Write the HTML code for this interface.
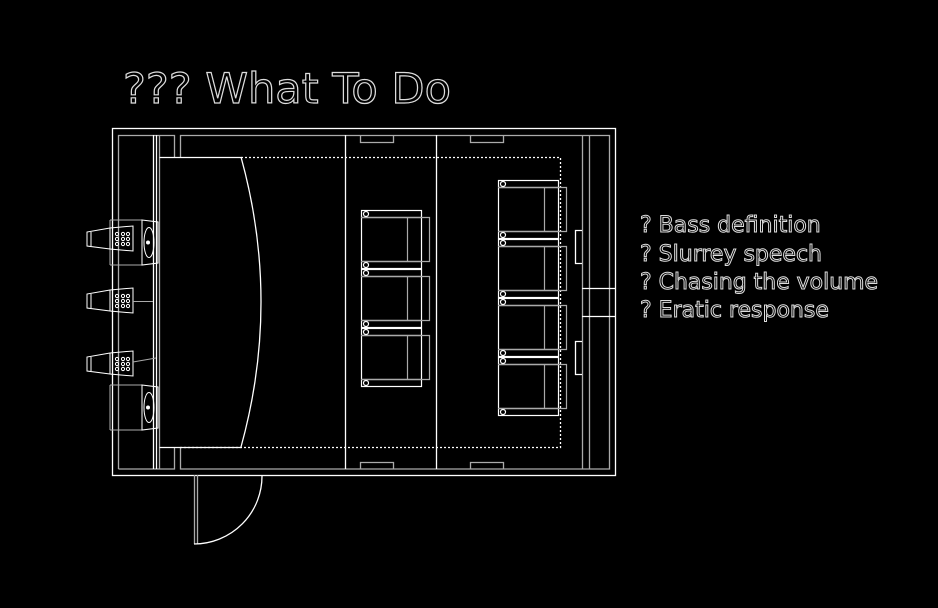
<!DOCTYPE html>
<html><head><meta charset="utf-8"><style>
html,body{margin:0;padding:0;background:#000;width:938px;height:608px;overflow:hidden}
svg{display:block}
</style></head><body>
<svg width="938" height="608" viewBox="0 0 938 608" xmlns="http://www.w3.org/2000/svg">
<rect width="938" height="608" fill="#000"/>
<text x="123" y="103" font-family="DejaVu Sans, sans-serif" font-size="42" fill="none" stroke="#ddd" stroke-width="1.2" textLength="328" lengthAdjust="spacingAndGlyphs">??? What To Do</text>
<g font-family="DejaVu Sans, sans-serif" font-size="22" fill="none" stroke="#ddd" stroke-width="1">
<text x="640" y="232">? Bass definition</text>
<text x="640" y="261">? Slurrey speech</text>
<text x="640" y="289" textLength="238" lengthAdjust="spacingAndGlyphs">? Chasing the volume</text>
<text x="640" y="317">? Eratic response</text>
</g>
<g fill="none" stroke-width="1.3">
<rect x="112.5" y="128.5" width="503" height="347" stroke="#fff"/>
<path d="M118.5 469 V135.5 H174.5 V157 M180.5 157 V135.5 H609.5 V469 H180.5 V447 M174.5 447 V469 H118.5" stroke="#aaa"/>
<path d="M153.5 135 V469 M156.5 135 V469" stroke="#fff"/>
<path d="M159.5 135 V469" stroke="#aaa"/>
<path d="M159.5 157.5 H241.5 M159.5 447.5 H241.5" stroke="#fff"/>
<path d="M241 157 Q281 302 241 447" stroke="#fff"/>
<path d="M241 157.5 H560.5 V447.5 H180" stroke="#fff" stroke-dasharray="2 2"/>
<path d="M345.5 135 V469 M436.5 135 V469" stroke="#fff"/>
<path d="M582.5 135 V469 M589.5 135 V469" stroke="#aaa"/>
<path d="M582 288.5 H615 M582 316.5 H615" stroke="#fff"/>
<path d="M360.5 135 V142.5 H393.5 V135 M470.5 135 V142.5 H503.5 V135 M360.5 469 V462.5 H393.5 V469 M470.5 469 V462.5 H503.5 V469" stroke="#aaa"/>
<path d="M582 230.5 H575.5 V263.5 H582 M582 341.5 H575.5 V374.5 H582" stroke="#fff"/>
<path d="M194.5 475 V544 M197.5 475 V544" stroke="#aaa"/>
<path d="M262 475 A68 68 0 0 1 194 544" stroke="#fff"/>
</g>
<defs>
<g id="seat" fill="none" stroke-width="1.2">
<rect x="0.5" y="0.5" width="60" height="58" stroke="#fff"/>
<path d="M0 7.5 H60 M0 51.5 H60" stroke="#fff"/>
<path d="M46.5 7 V52 M0 7.5 H68.5 V51.5 H0" stroke="#aaa"/>
<circle cx="5" cy="4" r="2.5" stroke="#fff"/>
<circle cx="5" cy="55" r="2.5" stroke="#fff"/>
</g>
<g id="spk" fill="none" stroke="#fff" stroke-width="1">
<path d="M110 -11 L133 -13 V12 L110 10 Z"/>
<path d="M110 -11 L87 -7 V7 L110 10 M91 -7 V7"/>
<circle cx="117" cy="-5" r="1.6"/><circle cx="123" cy="-5" r="1.6"/><circle cx="128" cy="-5" r="1.6"/>
<circle cx="117" cy="0" r="1.6"/><circle cx="123" cy="0" r="1.6"/><circle cx="128" cy="0" r="1.6"/>
<circle cx="117" cy="5" r="1.6"/><circle cx="123" cy="5" r="1.6"/><circle cx="128" cy="5" r="1.6"/>
</g>
<g id="sub" fill="none" stroke-width="1">
<path d="M110 0 H142 M110 45 H142 M110 0 V45" stroke="#aaa"/>
<path d="M142 0 L158 2 V43 L142 45 Z" stroke="#fff"/>
<ellipse cx="149" cy="22.5" rx="5" ry="15" stroke="#fff"/>
<circle cx="148" cy="22.5" r="2" fill="#fff"/>
</g>
</defs>
<use href="#seat" x="361" y="210"/>
<use href="#seat" x="361" y="269"/>
<use href="#seat" x="361" y="328"/>
<use href="#seat" x="498" y="180"/>
<use href="#seat" x="498" y="239"/>
<use href="#seat" x="498" y="298"/>
<use href="#seat" x="498" y="357"/>
<use href="#sub" x="0" y="220"/>
<use href="#sub" x="0" y="385"/>
<use href="#spk" x="0" y="239"/>
<use href="#spk" x="0" y="301"/>
<use href="#spk" x="0" y="364"/>
<path d="M133 301.5 H153 M133 362 L156 358" stroke="#aaa" stroke-width="1"/>
</svg>
</body></html>
